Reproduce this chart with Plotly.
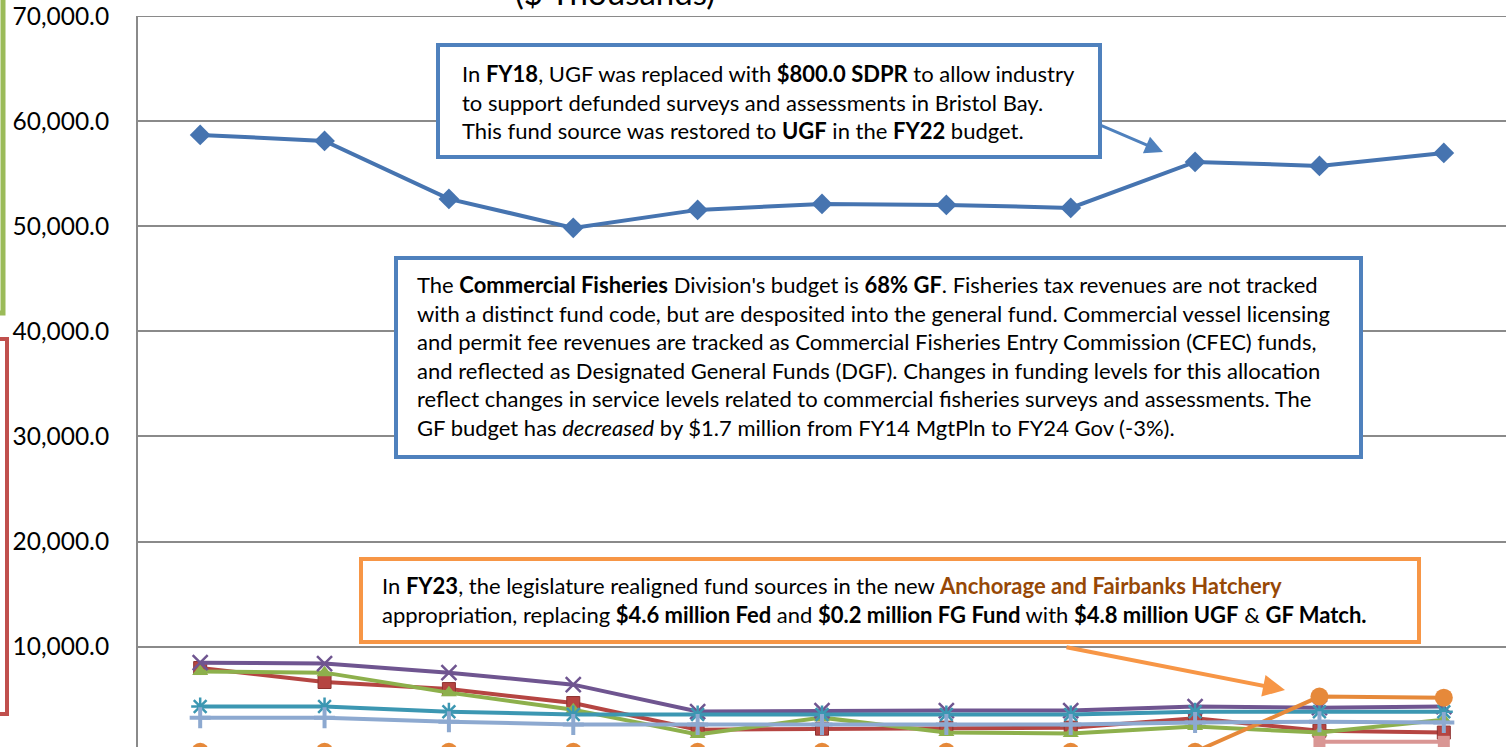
import plotly.graph_objects as go

# categories along the (cropped) x axis
years = ["FY14 MgtPln", "FY15 MgtPln", "FY16 MgtPln", "FY17 MgtPln", "FY18 MgtPln",
         "FY19 MgtPln", "FY20 MgtPln", "FY21 MgtPln", "FY22 MgtPln", "FY23 MgtPln", "FY24 Gov"]

# fund source series, $ thousands (legend is cropped out of the picture)
ugf = [58690, 58115, 52600, 49845, 51555, 52125, 52030, 51745, 56120, 55740, 56975]
dgf = [7970, 6640, 5970, 4640, 2110, 2200, 2300, 2300, 3200, 2000, 1830]
other = [7630, 7530, 5630, 4010, 1640, 3250, 1830, 1740, 2400, 1830, 3060]
fed = [8480, 8390, 7530, 6390, 3830, 3920, 3920, 3920, 4300, 4200, 4300]
test_fish = [4300, 4300, 3820, 3540, 3540, 3540, 3540, 3540, 3820, 3820, 3820]
gf_match = [0, 0, 0, 0, 0, 0, 0, 0, 0, 5250, 5150]
cip = [3250, 3250, 2870, 2590, 2590, 2590, 2590, 2590, 2780, 2870, 2780]
fg_fund = [None, None, None, None, None, None, None, None, None, 950, 950]

y_ticks = [10000, 20000, 30000, 40000, 50000, 60000, 70000]

FONT = "Lato"

# the chart is a crop: plot area runs past the bottom of the window
W_PX, H_PX = 1506, 762
L, R, T, B = 138, 1506, 16, H_PX
def px(x):
    return (x - L) / (R - L)
def py(y):
    return (B - y) / (B - T)

series = [
    ("UGF", ugf, "#4674B0", dict(symbol="diamond", size=16)),
    ("DGF", dgf, "#B54542", dict(symbol="square", size=13, line=dict(color="#8E3331", width=1))),
    ("Other", other, "#8DB04C", dict(symbol="triangle-up", size=14)),
    ("Fed", fed, "#6F5590", dict(symbol="x-thin-open", size=15, line=dict(color="#7A62A0", width=2.5))),
    ("Test Fish", test_fish, "#3C97B2", dict(symbol="asterisk-open", size=15, line=dict(color="#3C9FBC", width=2.5))),
    ("GF Match", gf_match, "#E6893A", dict(symbol="circle", size=18)),
    ("CIP", cip, "#8DA9D0", dict(symbol="cross-thin-open", size=15, line=dict(color="#6E86AA", width=4))),
    ("FG Fund", fg_fund, "#D99694", dict(symbol="square", size=12)),
]

fig = go.Figure()
for name, vals, color, marker in series:
    fig.add_trace(go.Scatter(
        x=years, y=vals, name=name, mode="lines+markers",
        line=dict(color=color, width=4),
        marker=dict(color=color, **marker),
        cliponaxis=False,
    ))

shapes = []
# top gridline (plotly drops the grid line sitting on the plot edge)
shapes.append(dict(type="line", xref="paper", yref="y", x0=0, x1=1, y0=y_ticks[-1], y1=y_ticks[-1],
                   layer="below", line=dict(color="#8A8A8A", width=2)))
# brackets at the far left edge
shapes.append(dict(type="path", xref="paper", yref="paper",
                   path=f"M {px(-6)},{py(-5)} L {px(3)},{py(-5)} L {px(3)},{py(313)} L {px(-6)},{py(313)}",
                   line=dict(color="#9BBB59", width=5)))
shapes.append(dict(type="path", xref="paper", yref="paper",
                   path=f"M {px(-6)},{py(339)} L {px(7)},{py(339)} L {px(7)},{py(714)} L {px(-6)},{py(714)}",
                   line=dict(color="#C0504D", width=4)))
# callout boxes
for x0, x1, y0, y1, col in [(438, 1100, 45, 157, "#4F81BD"),
                            (396, 1361, 258, 457, "#4F81BD"),
                            (361, 1419, 559, 642, "#F79646")]:
    shapes.append(dict(type="rect", xref="paper", yref="paper", layer="above",
                       x0=px(x0), x1=px(x1), y0=py(y1), y1=py(y0),
                       line=dict(color=col, width=4), fillcolor="white"))

txt1 = ("In <b>FY18</b>, UGF was replaced with <b>$800.0 SDPR</b> to allow industry<br>"
        "to support defunded surveys and assessments in Bristol Bay.<br>"
        "This fund source was restored to <b>UGF</b> in the <b>FY22</b> budget.")
txt2 = ("The <b>Commercial Fisheries</b> Division's budget is <b>68% GF</b>. Fisheries tax revenues are not tracked<br>"
        "with a distinct fund code, but are desposited into the general fund. Commercial vessel licensing<br>"
        "and permit fee revenues are tracked as Commercial Fisheries Entry Commission (CFEC) funds,<br>"
        "and reflected as Designated General Funds (DGF). Changes in funding levels for this allocation<br>"
        "reflect changes in service levels related to commercial fisheries surveys and assessments. The<br>"
        "GF budget has <i>decreased</i> by $1.7 million from FY14 MgtPln to FY24 Gov (-3%).")
txt3 = ("In <b>FY23</b>, the legislature realigned fund sources in the new "
        "<b><span style='color:#974806'>Anchorage and Fairbanks Hatchery</span></b><br>"
        "appropriation, replacing <b>$4.6 million Fed</b> and <b>$0.2 million FG Fund</b> with "
        "<b>$4.8 million UGF</b> & <b>GF Match.</b>")

annotations = [
    dict(text="($ Thousands)", xref="paper", yref="paper", x=px(615), y=py(14),
         xanchor="center", yanchor="bottom", showarrow=False,
         font=dict(family=FONT, size=33, color="black")),
    dict(text=txt1, xref="paper", yref="paper", x=px(460), y=py(102),
         xanchor="left", yanchor="middle", align="left", showarrow=False,
         font=dict(family=FONT, size=22, color="black")),
    dict(text=txt2, xref="paper", yref="paper", x=px(415), y=py(356),
         xanchor="left", yanchor="middle", align="left", showarrow=False,
         font=dict(family=FONT, size=22, color="black")),
    dict(text=txt3, xref="paper", yref="paper", x=px(380), y=py(600),
         xanchor="left", yanchor="middle", align="left", showarrow=False,
         font=dict(family=FONT, size=22, color="black")),
    # arrows
    dict(text="", xref="paper", yref="paper", x=px(1163), y=py(152),
         ax=1100 - 1163, ay=125 - 152, axref="pixel", ayref="pixel",
         showarrow=True, arrowhead=2, arrowsize=1.2, arrowwidth=3, arrowcolor="#4F81BD"),
    dict(text="", xref="paper", yref="paper", x=px(1285), y=py(690),
         ax=1065 - 1285, ay=647 - 690, axref="pixel", ayref="pixel",
         showarrow=True, arrowhead=2, arrowsize=1.1, arrowwidth=4, arrowcolor="#F79646"),
]

# 0 sits at ~752px, 10,000 units per ~105.2px
y_bottom = -(B - 751.8) / 105.17 * 10000

fig.update_layout(
    width=W_PX, height=H_PX,
    margin=dict(l=L, r=0, t=T, b=0, autoexpand=False),
    plot_bgcolor="white", paper_bgcolor="white",
    showlegend=False,
    shapes=shapes,
    annotations=annotations,
    font=dict(family=FONT, color="black"),
    xaxis=dict(type="category", range=[-0.5, 10.5], showgrid=False, showticklabels=False,
               zeroline=False, showline=False, automargin=False, fixedrange=True),
    yaxis=dict(range=[y_bottom, 70000.5], tickvals=y_ticks, tickformat=",.1f",
               showgrid=True, gridcolor="#8A8A8A", gridwidth=2,
               showline=True, linecolor="#8A8A8A", linewidth=2,
               zeroline=False, ticks="", ticklabelstandoff=22,
               tickfont=dict(family=FONT, size=24.5, color="black"), automargin=False),
)

# no body margin / scrollbars so the figure sits at the window's top-left
fig.write_html(
    "out.html",
    config={"displayModeBar": False},
    post_script="document.body.style.margin='0';"
                "document.body.style.overflow='hidden';"
                "document.documentElement.style.overflow='hidden';",
)
